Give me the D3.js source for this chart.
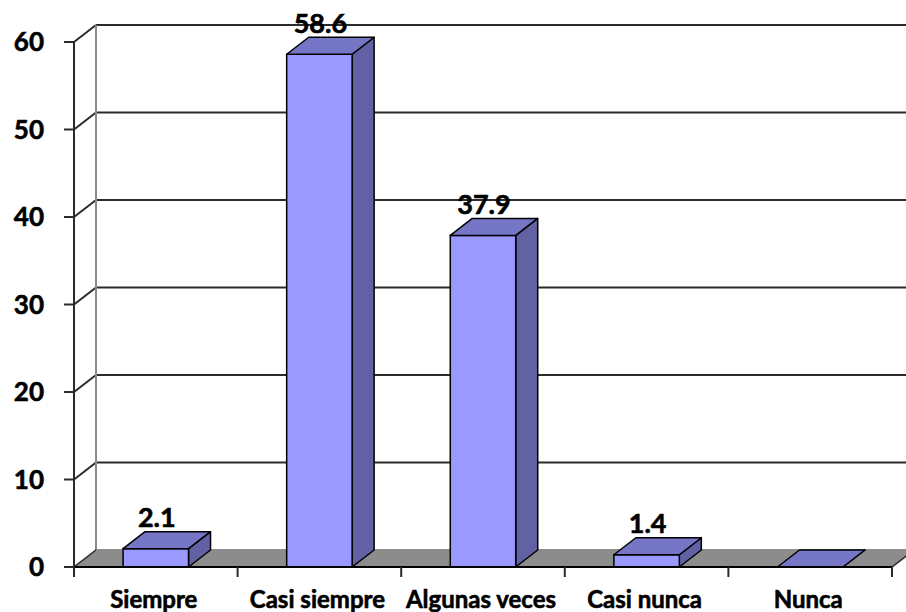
<!DOCTYPE html>
<html>
<head>
<meta charset="utf-8">
<script src="https://cdn.jsdelivr.net/npm/d3@7"></script>
<style>
  html, body { margin: 0; padding: 0; background: #fff; }
  svg { display: block; }
  text { font-family: Lato, "Open Sans", sans-serif; font-weight: 700; fill: #000; stroke: #000; stroke-width: 0.6px; }
</style>
</head>
<body>
<svg id="chart" width="906" height="612"></svg>
<script>
const categories = ["Siempre", "Casi siempre", "Algunas veces", "Casi nunca", "Nunca"];
const values = [2.1, 58.6, 37.9, 1.4, 0];
const yTicks = [0, 10, 20, 30, 40, 50, 60];

(function () {
const plotLeft = 74, plotRight = 892, plotBottom = 567, plotTop = 42;
const DX = 22, DY = -17;

const svg = d3.select("#chart");

const x = d3.scaleBand().domain(categories).range([plotLeft, plotRight]).paddingInner(0).paddingOuter(0);
const y = d3.scaleLinear().domain([0, 60]).range([plotBottom, plotTop]);

const barW = x.bandwidth() * 0.4;

// Back wall gridlines
const g = svg.append("g");
g.selectAll("line.grid").data(yTicks.filter(d => d > 0)).join("line")
  .attr("x1", plotLeft + DX).attr("x2", plotRight + DX + 20)
  .attr("y1", d => y(d) + DY).attr("y2", d => y(d) + DY)
  .attr("stroke", "#2b2b2b").attr("stroke-width", 2);
// Left wall diagonals
g.selectAll("line.diag").data(yTicks.filter(d => d > 0)).join("line")
  .attr("x1", plotLeft).attr("x2", plotLeft + DX)
  .attr("y1", d => y(d)).attr("y2", d => y(d) + DY)
  .attr("stroke", "#2b2b2b").attr("stroke-width", 2);
// back wall vertical line
g.append("line")
  .attr("x1", plotLeft + DX).attr("x2", plotLeft + DX)
  .attr("y1", y(60) + DY).attr("y2", y(0) + DY)
  .attr("stroke", "#8a8a8a").attr("stroke-width", 2);

// Floor
svg.append("polygon")
  .attr("points", [[plotLeft, y(0)], [plotRight, y(0)], [plotRight + DX, y(0) + DY], [plotLeft + DX, y(0) + DY]].map(p => p.join(",")).join(" "))
  .attr("fill", "#8c8c8c").attr("stroke", "#2b2b2b").attr("stroke-width", 1.5);
svg.append("line")
  .attr("x1", plotLeft + DX).attr("x2", plotRight + DX)
  .attr("y1", y(0) + DY).attr("y2", y(0) + DY)
  .attr("stroke", "#a0a0a0").attr("stroke-width", 1.5);

// Front vertical axis
svg.append("line")
  .attr("x1", plotLeft).attr("x2", plotLeft)
  .attr("y1", y(60)).attr("y2", y(0))
  .attr("stroke", "#2b2b2b").attr("stroke-width", 2);
svg.selectAll("line.ytick").data(yTicks).join("line")
  .attr("x1", plotLeft - 10).attr("x2", plotLeft)
  .attr("y1", d => y(d)).attr("y2", d => y(d))
  .attr("stroke", "#2b2b2b").attr("stroke-width", 2);
svg.selectAll("text.ylab").data(yTicks).join("text")
  .attr("x", 44).attr("y", d => y(d)).attr("dy", "0.36em")
  .attr("text-anchor", "end").attr("font-size", 26)
  .text(d => d);

// Bars
const bars = svg.selectAll("g.bar").data(categories.map((c, i) => ({ c, v: values[i] }))).join("g");
bars.each(function(d) {
  const gb = d3.select(this);
  const x0 = x(d.c) + (x.bandwidth() - barW) / 2, x1 = x0 + barW;
  const yt = y(d.v), yb = y(0);
  const pts = a => a.map(p => p.join(",")).join(" ");
  gb.append("polygon")
    .attr("points", pts([[x1, yb], [x1 + DX, yb + DY], [x1 + DX, yt + DY], [x1, yt]]))
    .attr("fill", "#6161a3").attr("stroke", "#000").attr("stroke-width", 1.5).attr("stroke-linejoin", "round");
  if (d.v > 0) {
    gb.append("rect")
      .attr("x", x0).attr("y", yt).attr("width", barW).attr("height", yb - yt)
      .attr("fill", "#9999ff").attr("stroke", "#000").attr("stroke-width", 1.5);
  }
  gb.append("polygon")
    .attr("points", pts([[x0, yt], [x1, yt], [x1 + DX, yt + DY], [x0 + DX, yt + DY]]))
    .attr("fill", "#7676c6").attr("stroke", "#000").attr("stroke-width", 1.5).attr("stroke-linejoin", "round");
  if (d.v > 0) {
    gb.append("text")
      .attr("x", (x0 + x1) / 2 + 1).attr("y", yt + DY - 4.5)
      .attr("text-anchor", "middle").attr("font-size", 27)
      .text(d.v.toFixed(1));
  }
});

// X axis
svg.append("line")
  .attr("x1", plotLeft).attr("x2", plotRight)
  .attr("y1", y(0)).attr("y2", y(0))
  .attr("stroke", "#000").attr("stroke-width", 2);
const bounds = categories.map(c => x(c)).concat([plotRight]);
svg.selectAll("line.xtick").data(bounds).join("line")
  .attr("x1", d => d).attr("x2", d => d)
  .attr("y1", y(0)).attr("y2", y(0) + 10)
  .attr("stroke", "#2b2b2b").attr("stroke-width", 2);
svg.selectAll("text.xlab").data(categories).join("text")
  .attr("x", d => x(d) + x.bandwidth() / 2 - 2).attr("y", 608)
  .attr("text-anchor", "middle").attr("font-size", 24)
  .text(d => d);
})();
</script>
</body>
</html>
